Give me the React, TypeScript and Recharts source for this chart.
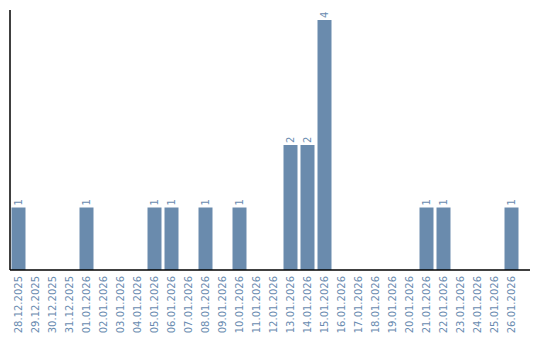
import React from 'react';
import { BarChart, Bar, XAxis, YAxis, LabelList } from 'recharts';

const dates = [
  '28.12.2025', '29.12.2025', '30.12.2025', '31.12.2025',
  '01.01.2026', '02.01.2026', '03.01.2026', '04.01.2026', '05.01.2026',
  '06.01.2026', '07.01.2026', '08.01.2026', '09.01.2026', '10.01.2026',
  '11.01.2026', '12.01.2026', '13.01.2026', '14.01.2026', '15.01.2026',
  '16.01.2026', '17.01.2026', '18.01.2026', '19.01.2026', '20.01.2026',
  '21.01.2026', '22.01.2026', '23.01.2026', '24.01.2026', '25.01.2026',
  '26.01.2026',
];
const counts = [
  1, 0, 0, 0,
  1, 0, 0, 0, 1,
  1, 0, 1, 0, 1,
  0, 0, 2, 2, 4,
  0, 0, 0, 0, 0,
  1, 1, 0, 0, 0,
  1,
];

const data = dates.map((d, i) => ({ date: d, count: counts[i] }));

const BAR_COLOR = '#6a8bad';
const TEXT_COLOR = '#6a8bb0';
const FONT = 'DejaVu Sans, sans-serif';

const Tick = (props: any) => {
  const { x, y, payload } = props;
  return (
    <text
      x={x}
      y={y}
      dy="0.35em"
      transform={`rotate(-90, ${x}, ${y})`}
      textAnchor="end"
      fill={TEXT_COLOR}
      fontSize={10}
      fontFamily={FONT}
    >
      {payload.value}
    </text>
  );
};

const BarLabel = (props: any) => {
  const { x, y, width, value } = props;
  if (!value) return null;
  const cx = x + width / 2;
  const ty = y - 2;
  return (
    <text
      x={cx}
      y={ty}
      dy="0.35em"
      transform={`rotate(-90, ${cx}, ${ty})`}
      textAnchor="start"
      fill={TEXT_COLOR}
      fontSize={10}
      fontFamily={FONT}
    >
      {value}
    </text>
  );
};

export default function App() {
  return (
    <div style={{ position: 'absolute', left: 0, top: 0, width: 540, height: 340, background: '#fff' }}>
      <BarChart
        width={540}
        height={340}
        data={data}
        margin={{ top: 10, right: 10, bottom: 0, left: 9 }}
        barCategoryGap={1.5}
      >
        <XAxis
          dataKey="date"
          interval={0}
          height={70}
          tickLine={false}
          tickSize={4}
          tickMargin={2}
          tick={<Tick />}
          axisLine={{ stroke: '#000', strokeWidth: 1.5 }}
          padding={{ left: 0, right: 10 }}
        />
        <YAxis
          width={1}
          domain={[0, 4]}
          tick={false}
          tickLine={false}
          padding={{ top: 10, bottom: 0 }}
          axisLine={{ stroke: '#000', strokeWidth: 1.5 }}
        />
        <Bar dataKey="count" fill={BAR_COLOR} isAnimationActive={false}>
          <LabelList dataKey="count" content={<BarLabel />} />
        </Bar>
      </BarChart>
    </div>
  );
}
